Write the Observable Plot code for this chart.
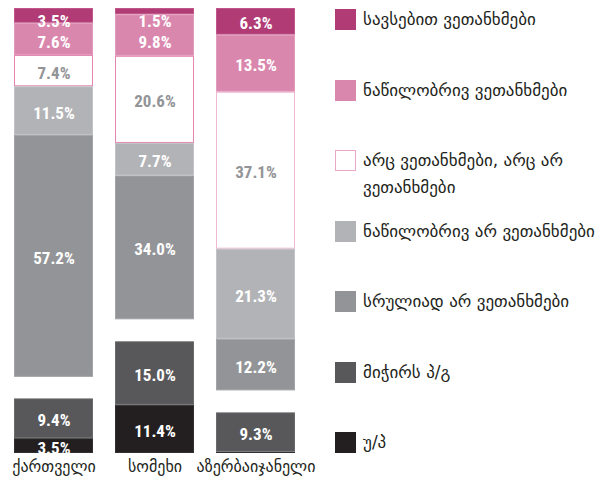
<!DOCTYPE html>
<html>
<head>
<meta charset="utf-8">
<script src="https://cdn.jsdelivr.net/npm/d3@7"></script>
<script src="https://cdn.jsdelivr.net/npm/@observablehq/plot@0.6"></script>
<style>
  html, body { margin: 0; padding: 0; background: #fff; }
  #wrap { position: relative; width: 611px; height: 482px; overflow: hidden; font-family: "DejaVu Sans", "Noto Sans", sans-serif; }
  #chart { position: absolute; left: 0; top: 0; }
  #legend { position: absolute; left: 335px; top: 9px; width: 276px; }
  .item { display: flex; align-items: flex-start; height: 70.5px; }
  .sw { width: 21px; height: 21px; flex: none; box-sizing: border-box; }
  .lab { margin-left: 7px; margin-top: -3px; font-size: 17px; line-height: 27px; color: #231f20; width: 246px; }
</style>
</head>
<body>
<div id="wrap">
  <div id="chart"></div>
  <div id="legend"></div>
</div>
<script>
const categories = ["ქართველი", "სომეხი", "აზერბაიჯანელი"];
const responses = [
  "სავსებით ვეთანხმები",
  "ნაწილობრივ ვეთანხმები",
  "არც ვეთანხმები, არც არ ვეთანხმები",
  "ნაწილობრივ არ ვეთანხმები",
  "სრულიად არ ვეთანხმები",
  "მიჭირს პ/გ",
  "უ/პ"
];
const fillColors = ["#b03b75", "#da87ae", "#ffffff", "#b2b3b6", "#939497", "#58585a", "#231f20"];
const strokeColors = ["#c0568a", "#e29bbd", "#e685b0", "#c2c3c6", "#a3a4a7", "#6a6a6c", "#333031"];
const labelColors = ["#fff", "#fff", "#939497", "#fff", "#fff", "#fff", "#fff"];
const valuesGeorgian = [3.5, 7.6, 7.4, 11.5, 57.2, 9.4, 3.5];
const valuesArmenian = [1.5, 9.8, 20.6, 7.7, 34.0, 15.0, 11.4];
const valuesAzerbaijani = [6.3, 13.5, 37.1, 21.3, 12.2, 9.3, 0.3];
const topGroupSize = 5;      // opinions stacked down from the top
const yTop = 105.2;          // top of the stacks (leaves a gap above the DK/NA block)

const series = [valuesGeorgian, valuesArmenian, valuesAzerbaijani];
const rows = [];
series.forEach((vals, ci) => {
  let cur = yTop;
  let prevLabel = yTop + 2.1;
  for (let i = 0; i < topGroupSize; i++) {
    const r = {cat: categories[ci], i, value: vals[i], y1: cur - vals[i], y2: cur};
    r.ly = Math.min((r.y1 + r.y2) / 2, prevLabel - 4.8);
    prevLabel = r.ly;
    rows.push(r);
    cur -= vals[i];
  }
  cur = 0;
  for (let i = vals.length - 1; i >= topGroupSize; i--) {
    const r = {cat: categories[ci], i, value: vals[i], y1: cur, y2: cur + vals[i]};
    r.ly = (r.y1 + r.y2) / 2;
    rows.push(r);
    cur += vals[i];
  }
});
// azerbaijani column stroke of the neutral box is lighter
const strokeFor = d => (d.i === 2 && d.cat === categories[2]) ? "#efb9d2" : strokeColors[d.i];

const plot = Plot.plot({
  width: 320,
  height: 482,
  marginLeft: 13,
  marginRight: 25,
  marginTop: 8,
  marginBottom: 29,
  x: {domain: categories, paddingInner: 0.22, paddingOuter: 0, label: null},
  y: {domain: [0, yTop], axis: null},
  style: {fontFamily: "DejaVu Sans, sans-serif", background: "#fff", overflow: "visible"},
  marks: [
    Plot.rectY(rows, {
      x: "cat", y1: "y1", y2: "y2",
      fill: d => fillColors[d.i],
      stroke: d => strokeFor(d),
      strokeWidth: 1,
      inset: 0.5
    }),
    Plot.text(rows.filter(d => d.value >= 1), {
      x: "cat", y: "ly",
      text: d => d.value.toFixed(1) + "%",
      fill: d => labelColors[d.i],
      fontSize: 17,
      fontWeight: "bold",
      fontFamily: "Liberation Sans Narrow, Roboto Condensed, DejaVu Sans Condensed, sans-serif",
      dy: 2
    }),
    Plot.axisX({tickSize: 0, tickPadding: 7, fontSize: 16, fill: "#231f20", label: null})
  ]
});
document.getElementById("chart").appendChild(plot);

const legend = document.getElementById("legend");
responses.forEach((r, i) => {
  const item = document.createElement("div");
  item.className = "item";
  const sw = document.createElement("div");
  sw.className = "sw";
  sw.style.background = fillColors[i];
  if (i === 2) sw.style.border = "1.5px solid #eaa7c6";
  const lab = document.createElement("div");
  lab.className = "lab";
  lab.textContent = r;
  item.appendChild(sw);
  item.appendChild(lab);
  legend.appendChild(item);
});
</script>
</body>
</html>
